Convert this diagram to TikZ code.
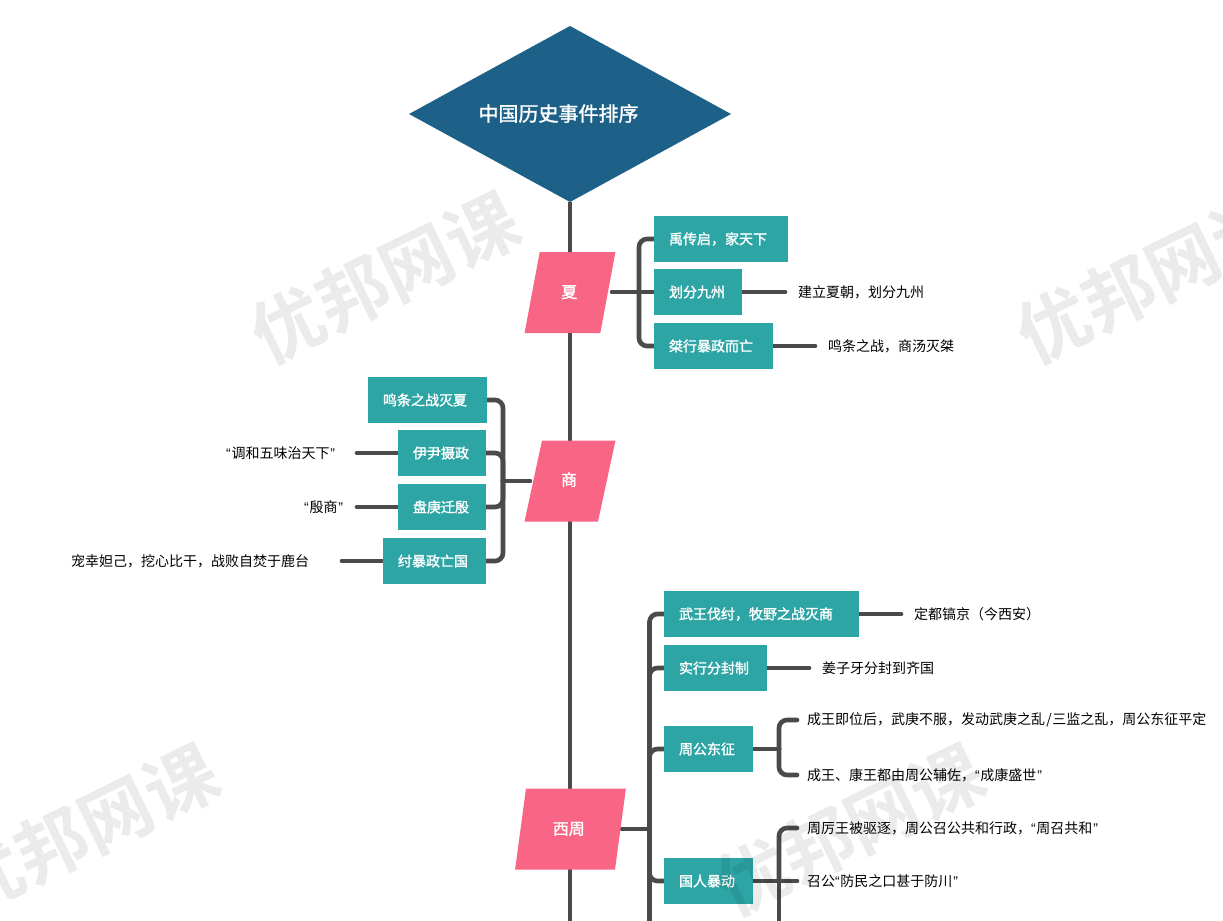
\documentclass[tikz,border=0pt]{standalone}
\usepackage{fontspec}
\setmainfont{Noto Sans CJK SC}[BoldFont={Noto Sans CJK SC},BoldFeatures={FakeBold=1.5}]
\newfontfamily\wmfont{Noto Sans CJK SC Bold}
\newfontfamily\quotefont{Liberation Sans}
\newcommand{\qo}{{\quotefont “\kern0.6pt}}
\newcommand{\qc}{{\kern0.6pt\quotefont ”}}
\newcommand{\up}[1]{\raisebox{1.2pt}{#1}}
\usetikzlibrary{shapes.geometric,backgrounds}
\definecolor{rootblue}{HTML}{1D6188}
\definecolor{periodpink}{HTML}{F96584}
\definecolor{boxteal}{HTML}{2DA5A5}
\definecolor{linegray}{HTML}{4A4A4A}
\tikzset{
  x=0.75pt,y=-0.75pt,
  rootnode/.style={shape=diamond,fill=rootblue,minimum width=241.5pt,minimum height=132pt,inner sep=0pt,outer sep=0pt},
  roottext/.style={text=white,font=\fontsize{15}{18}\selectfont\bfseries,inner sep=0pt},
  period/.style={shape=trapezium,trapezium left angle=76,trapezium right angle=104,trapezium stretches=true,
    fill=periodpink,text=white,font=\fontsize{12}{14}\selectfont\bfseries,
    minimum width=#1*0.75pt,minimum height=60.75pt,inner sep=0pt,outer sep=0pt},
  tbox/.style={anchor=west,fill=boxteal,text=white,font=\fontsize{10.5}{12}\selectfont\bfseries,
    text width=(#1-30)*0.75pt,align=left,minimum height=34.5pt,inner xsep=11.25pt,inner ysep=0pt,outer sep=0pt},
  leafr/.style={anchor=west,font=\fontsize{10.5}{12}\selectfont,text=black,inner xsep=#1*0.75pt,inner ysep=0pt,outer sep=0pt},
  leafl/.style={anchor=east,font=\fontsize{10.5}{12}\selectfont,text=black,inner xsep=#1*0.75pt,inner ysep=0pt,outer sep=0pt},
  conn/.style={draw=linegray,line width=3.5pt,line cap=round,rounded corners=6pt},
  trunkline/.style={draw=linegray,line width=3.7pt},
  wmark/.style={font=\fontsize{54}{60}\selectfont\wmfont,text=black,text opacity=0.08,rotate=26,inner sep=0pt}
}
\begin{document}
\begin{tikzpicture}
\useasboundingbox (0,0) rectangle (1223,920);
\begin{pgfonlayer}{background}
\fill[white] (0,0) rectangle (1223,920);
\end{pgfonlayer}

\node[rootnode] (root) at (570,114) {};
\node[roottext] (roottxt) at (558.5,113.5) {中国历史事件排序};
\coordinate (trunkend) at (570,930);

\node[period=91] (xia) at (570,292.5) {\raisebox{1.5pt}{\kern-1pt 夏}};
\node[period=91] (shang) at (570,481) {\raisebox{3pt}{\kern-1.5pt 商}};
\node[period=111] (xizhou) at (570.5,829) {\raisebox{1pt}{\kern-2.5pt 西周}};

\coordinate (xiahub) at (612,292);
\coordinate (shanghub) at (530,481);
\coordinate (xizhouhub) at (622,829);

% Xia
\node[tbox=134] (a1) at (654,239) {禹传启，家天下};
\node[tbox=88] (a2) at (654,292) {划分九州};
\node[tbox=119] (a3) at (654,346) {桀行暴政而亡};
\node[leafr=13] (a2l) at (785,292) {\up{建立夏朝，划分九州}};
\node[leafr=13] (a3l) at (815,346) {\up{鸣条之战，商汤灭桀}};

% Shang
\node[tbox=119] (b1) at (368,400) {鸣条之战灭夏};
\node[tbox=88] (b2) at (398,453) {伊尹摄政};
\node[tbox=88] (b3) at (398,507) {盘庚迁殷};
\node[tbox=103] (b4) at (383,561) {纣暴政亡国};
\node[leafl=22] (b2l) at (357,453) {\up{\qo 调和五味治天下\qc}};
\node[leafl=14] (b3l) at (357,507) {\up{\qo 殷商\qc}};
\node[leafl=33] (b4l) at (342,561) {\up{宠幸妲己，挖心比干，战败自焚于鹿台}};

% Xi Zhou
\node[tbox=195] (c1) at (664,614) {武王伐纣，牧野之战灭商};
\node[tbox=103] (c2) at (664,668) {实行分封制};
\node[tbox=89] (c3) at (664,749) {周公东征};
\node[tbox=89] (c4) at (664,881) {国人暴动};
\node[leafr=13] (c1l) at (901,614) {\up{定都镐京（今西安）}};
\node[leafr=13] (c2l) at (809,668) {\up{姜子牙分封到齐国}};
\node[leafr=10] (c3a) at (797,720) {成王即位后，武庚不服，发动武庚之乱\kern1pt/\kern0.5pt 三监之乱，周公东征平定};
\node[leafr=10] (c3b) at (797,775) {\up{成王、康王都由周公辅佐，\qo 成康盛世\qc}};
\node[leafr=10] (c4a) at (797,828) {周厉王被驱逐，周公召公共和行政，\qo 周召共和\qc};
\node[leafr=10] (c4b) at (797,881) {召公\qo 防民之口甚于防川\qc};
\coordinate (c4end) at (779,930);
\coordinate (xizhouend) at (649.5,930);
\coordinate (xiaj) at (639,292);
\coordinate (shangj) at (503,481);
\coordinate (xizhouj) at (649.5,829);
\coordinate (c3j) at (779,749);
\coordinate (c4j) at (779,881);

\begin{pgfonlayer}{background}
\draw[trunkline] (root.south) -- (trunkend);
% Xia connectors
\draw[conn] (xiahub) -- (a2.west);
\draw[conn] (xiaj) -- (639,239) -- (a1.west);
\draw[conn] (xiaj) -- (639,346) -- (a3.west);
\draw[conn] (a2.east) -- (a2l.west);
\draw[conn] (a3.east) -- (a3l.west);
% Shang connectors
\draw[conn] (shanghub) -- (shangj);
\draw[conn] (shangj) -- (503,400) -- (b1.east);
\draw[conn] (shangj) -- (503,453) -- (b2.east);
\draw[conn] (shangj) -- (503,507) -- (b3.east);
\draw[conn] (shangj) -- (503,561) -- (b4.east);
\draw[conn] (b2.west) -- (b2l.east);
\draw[conn] (b3.west) -- (b3l.east);
\draw[conn] (b4.west) -- (b4l.east);
% Xi Zhou connectors
\draw[conn] (xizhouhub) -- (xizhouj);
\draw[conn] (xizhouj) -- (649.5,614) -- (c1.west);
\draw[conn] (xizhouj) -- (649.5,668) -- (c2.west);
\draw[conn] (xizhouj) -- (649.5,749) -- (c3.west);
\draw[conn] (xizhouj) -- (649.5,881) -- (c4.west);
\draw[conn] (xizhouj) -- (xizhouend);
\draw[conn] (c1.east) -- (c1l.west);
\draw[conn] (c2.east) -- (c2l.west);
\draw[conn] (c3.east) -- (c3j);
\draw[conn] (c3j) -- (779,720) -- (c3a.west);
\draw[conn] (c3j) -- (779,775) -- (c3b.west);
\draw[conn] (c4.east) -- (c4b.west);
\draw[conn] (c4j) -- (779,828) -- (c4a.west);
\draw[conn] (c4j) -- (c4end);
\end{pgfonlayer}

% Watermarks
\node[wmark] (w1) at (385,278) {优邦网课};
\node[wmark] (w2) at (1151,278) {优邦网课};
\node[wmark] (w3) at (84,830) {优邦网课};
\node[wmark] (w4) at (850,830) {优邦网课};
\end{tikzpicture}
\end{document}
